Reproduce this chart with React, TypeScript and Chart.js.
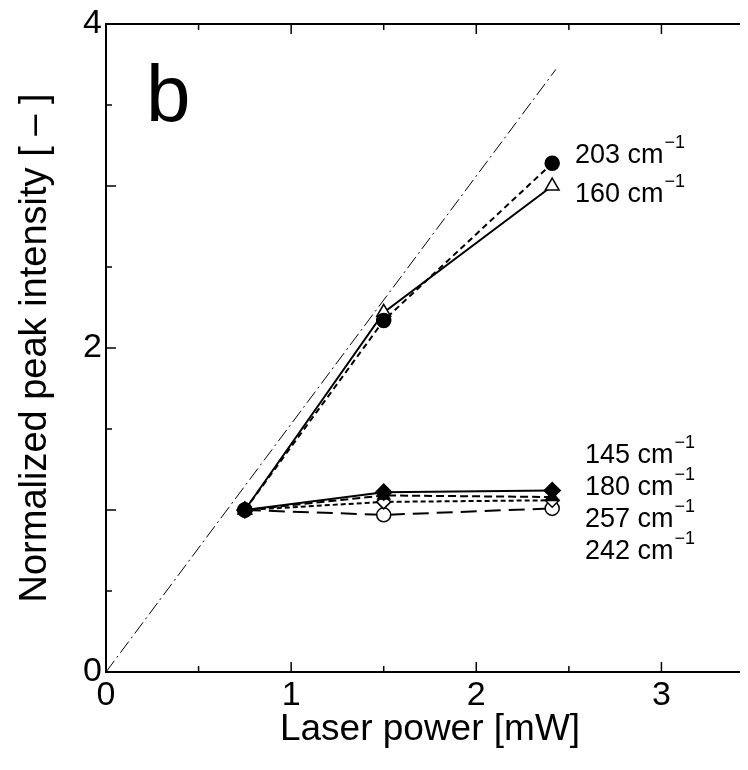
import React, { useEffect, useRef } from 'react';
import { Chart, registerables } from 'chart.js';

Chart.register(...registerables);

// ---- data ----
const laserPower = [0.75, 1.5, 2.41];
const peak203 = [1.0, 2.17, 3.14];
const peak160 = [1.0, 2.22, 3.0];
const peak145 = [1.0, 1.11, 1.12];
const peak180 = [1.0, 1.09, 1.08];
const peak257 = [1.0, 1.05, 1.06];
const peak242 = [1.0, 0.97, 1.01];
const linearX = [0, 2.43];
const linearY = [0, 3.72];

const seriesNames = ['203', '160', '145', '180', '257', '242'];
const labelX = [2.533, 2.533, 2.587, 2.587, 2.587, 2.587];
const labelY = [3.142, 2.900, 1.290, 1.093, 0.895, 0.698];

const xTickLabels = [0, 1, 2, 3];
const yTickLabels = [0, 2, 4];
const xMajorTicks = [0, 1, 2, 3];
const xMinorTicks = [0.5, 1.5, 2.5, 3.5];
const yMajorTicks = [0, 1, 2, 3, 4];
const yMinorTicks = [0.5, 1.5, 2.5, 3.5];

const FONT = '"Liberation Sans", Arial, Helvetica, sans-serif';

const pts = (ys: number[]) => ys.map((v, i) => ({ x: laserPower[i], y: v }));

const framePlugin = {
  id: 'framePlugin',
  afterDraw(chart: any) {
    const { ctx, chartArea: a, scales } = chart;
    const x = scales.x;
    const y = scales.y;
    ctx.save();
    ctx.strokeStyle = '#000';
    ctx.lineWidth = 2;
    ctx.strokeRect(a.left, a.top, a.right - a.left, a.bottom - a.top);
    const seg = (x1: number, y1: number, x2: number, y2: number) => {
      ctx.beginPath();
      ctx.moveTo(x1, y1);
      ctx.lineTo(x2, y2);
      ctx.stroke();
    };
    ctx.lineWidth = 1.5;
    xMajorTicks.forEach((v) => {
      const p = x.getPixelForValue(v);
      seg(p, a.bottom, p, a.bottom - 10);
      seg(p, a.top, p, a.top + 10);
    });
    xMinorTicks.forEach((v) => {
      const p = x.getPixelForValue(v);
      seg(p, a.bottom, p, a.bottom - 6);
      seg(p, a.top, p, a.top + 6);
    });
    yMajorTicks.forEach((v) => {
      const p = y.getPixelForValue(v);
      seg(a.left, p, a.left + 10, p);
      seg(a.right, p, a.right - 10, p);
    });
    yMinorTicks.forEach((v) => {
      const p = y.getPixelForValue(v);
      seg(a.left, p, a.left + 6, p);
      seg(a.right, p, a.right - 6, p);
    });

    // series labels
    ctx.fillStyle = '#000';
    ctx.textBaseline = 'alphabetic';
    ctx.textAlign = 'left';
    seriesNames.forEach((name, i) => {
      const px = x.getPixelForValue(labelX[i]);
      const py = y.getPixelForValue(labelY[i]);
      ctx.font = `27px ${FONT}`;
      const main = `${name} cm`;
      ctx.fillText(main, px, py);
      const w = ctx.measureText(main).width;
      ctx.font = `18px ${FONT}`;
      ctx.fillText('\u22121', px + w + 1, py - 15);
    });

    // panel letter
    ctx.font = `80px ${FONT}`;
    ctx.fillText('b', 138, 113);

    // axis titles
    ctx.font = `37px ${FONT}`;
    ctx.textAlign = 'center';
    ctx.textBaseline = 'middle';
    ctx.fillText('Laser power [mW]', (a.left + a.right) / 2, 722);
    ctx.save();
    ctx.translate(28, (a.top + a.bottom) / 2);
    ctx.rotate(-Math.PI / 2);
    ctx.font = `38px ${FONT}`;
    ctx.fillText('Normalized peak intensity [ \u2013 ]', 0, 0);
    ctx.restore();
    ctx.restore();
  },
};

export default function App() {
  const ref = useRef<HTMLCanvasElement | null>(null);
  useEffect(() => {
    if (!ref.current) return;
    const base = {
      borderColor: '#000',
      borderWidth: 2,
      pointBorderColor: '#000',
      pointBorderWidth: 1.5,
      pointRadius: 7,
      fill: false,
      tension: 0,
    };
    const chart = new Chart(ref.current, {
      type: 'line',
      data: {
        datasets: [
          { ...base, label: '203', data: pts(peak203), borderDash: [6, 4], pointStyle: 'circle', pointBackgroundColor: '#000' },
          { ...base, label: '160', data: pts(peak160), pointStyle: 'triangle', pointRadius: 8, pointBackgroundColor: '#fff' },
          { ...base, label: '145', data: pts(peak145), pointStyle: 'rectRot', pointRadius: 8, pointBackgroundColor: '#000' },
          { ...base, label: '180', data: pts(peak180), borderDash: [8, 4], pointStyle: 'triangle', pointRadius: 7, pointBackgroundColor: '#000' },
          { ...base, label: '257', data: pts(peak257), borderDash: [5, 3], pointStyle: 'rectRot', pointRadius: 7, pointBackgroundColor: '#fff' },
          { ...base, label: '242', data: pts(peak242), borderDash: [16, 8], pointStyle: 'circle', pointRadius: 7, pointBackgroundColor: '#fff' },
          {
            label: 'linear',
            data: linearX.map((v, i) => ({ x: v, y: linearY[i] })),
            borderColor: '#000',
            borderWidth: 1,
            borderDash: [14, 4, 2, 4],
            pointRadius: 0,
            fill: false,
          },
        ],
      },
      options: {
        responsive: false,
        animation: false,
        layout: { padding: { left: 0, right: 14, top: 16, bottom: 0 } },
        plugins: { legend: { display: false }, tooltip: { enabled: false } },
        scales: {
          x: {
            type: 'linear',
            min: 0,
            max: 3.5,
            grid: { display: false, drawTicks: false },
            border: { display: false },
            afterBuildTicks: (s: any) => { s.ticks = xTickLabels.map((v) => ({ value: v })); },
            afterFit: (s: any) => { s.height = 98; s.paddingLeft = 0; s.paddingRight = 0; },
            ticks: { color: '#000', font: { size: 34, family: FONT }, padding: 3, maxRotation: 0, autoSkip: false },
          },
          y: {
            type: 'linear',
            min: 0,
            max: 4,
            grid: { display: false, drawTicks: false },
            border: { display: false },
            afterBuildTicks: (s: any) => { s.ticks = yTickLabels.map((v) => ({ value: v })); },
            afterFit: (s: any) => { s.width = 98; s.paddingTop = 0; s.paddingBottom = 0; },
            ticks: { color: '#000', font: { size: 34, family: FONT }, padding: 4, autoSkip: false },
          },
        },
      },
      plugins: [framePlugin],
    });
    return () => chart.destroy();
  }, []);
  return (
    <div style={{ width: 740, height: 762, overflow: 'hidden' }}>
      <canvas ref={ref} width={760} height={762} style={{ display: 'block' }} />
    </div>
  );
}
